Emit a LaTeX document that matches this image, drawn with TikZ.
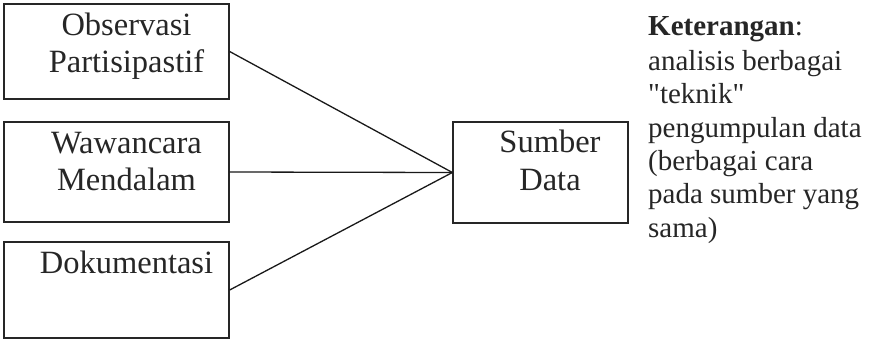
\documentclass[tikz,border=0pt]{standalone}
\usepackage{fontspec}
\setmainfont{Liberation Serif}
\begin{document}
\begin{tikzpicture}[x=1bp,y=-1bp,
  box/.style={draw=black!85,line width=1.3bp,minimum width=#1,inner sep=0pt},
  lbl/.style={anchor=base,inner sep=0pt,font=\fontsize{32.5bp}{37bp}\selectfont,text=black!85},
  note/.style={anchor=base west,inner sep=0pt,font=\fontsize{29bp}{33.5bp}\selectfont,text=black!85},
  conn/.style={draw=black!90,line width=1.3bp}]
\useasboundingbox (0,0) rectangle (870,338);
\node[box=225bp,minimum height=95bp] (b1) at (116.5,51.5) {};
\node[box=225bp,minimum height=100bp] (b2) at (116.5,172) {};
\node[box=225bp,minimum height=96bp] (b3) at (116.5,290) {};
\node[box=175bp,minimum height=101bp] (sd) at (540.5,172.5) {};
\node[lbl] (t1) at (126.5,35) {Observasi};
\node[lbl] (t2) at (126.5,72) {Partisipastif};
\node[lbl] (t3) at (126.5,153) {Wawancara};
\node[lbl] (t4) at (126.5,190) {Mendalam};
\node[lbl] (t5) at (126.5,273) {Dokumentasi};
\node[lbl] (t6) at (550,152) {Sumber};
\node[lbl] (t7) at (550,190) {Data};
\draw[conn] (b1.east) -- (sd.west);
\draw[conn] (b2.east) -- (sd.west);
\draw[conn] (b3.east) -- (sd.west);
\node[note] (k1) at (648,35.5) {\textbf{Keterangan}:};
\node[note] (k2) at (648,70) {analisis berbagai};
\node[note] (k3) at (648,103) {\textquotedbl teknik\textquotedbl};
\node[note] (k4) at (648,137) {pengumpulan data};
\node[note] (k5) at (648,170) {(berbagai cara};
\node[note] (k6) at (648,203.5) {pada sumber yang};
\node[note] (k7) at (648,237.5) {sama)};
\end{tikzpicture}
\end{document}
